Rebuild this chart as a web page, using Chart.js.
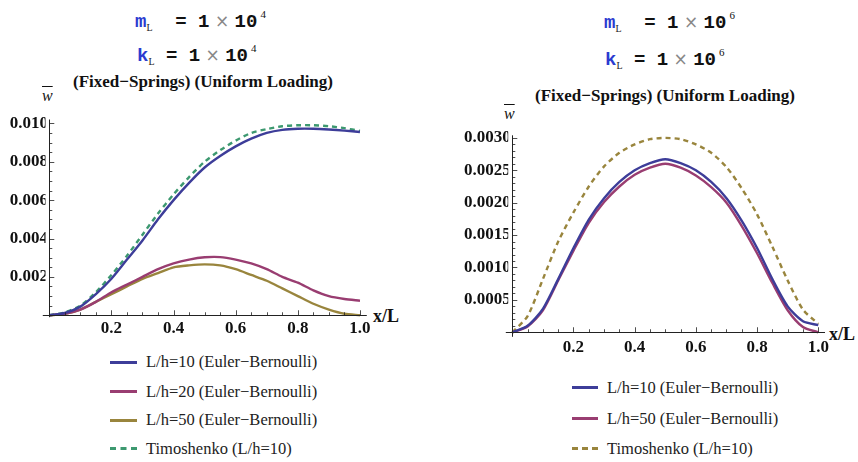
<!DOCTYPE html>
<html><head><meta charset="utf-8">
<script src="https://cdn.jsdelivr.net/npm/chart.js@4.4.1/dist/chart.umd.min.js"></script>
<style>
html,body{margin:0;padding:0;background:#fff;}
body{width:858px;height:462px;position:relative;overflow:hidden;}
.abs{position:absolute;white-space:pre;}
.hdr{font-family:"Liberation Mono","Courier New",monospace;font-weight:bold;font-size:19px;color:#111;line-height:1;}
.hdr .v{color:#2b3bd0;}
.hdr .s{font-family:"Liberation Serif",serif;font-weight:normal;font-size:10px;vertical-align:-4px;color:#222;}
.hdr .x{font-family:"DejaVu Sans",sans-serif;font-weight:normal;color:#888;font-size:17px;}
.hdr .p{font-family:"Liberation Serif",serif;font-weight:normal;font-size:11px;vertical-align:9px;margin-left:3px;}
.ttl{font-family:"Liberation Serif",serif;font-weight:bold;font-size:17px;color:#111;transform:translateX(-50%);}
.lab{font-family:"Liberation Serif",serif;font-weight:bold;font-size:18px;color:#111;}
.wbar{font-family:"Liberation Serif",serif;font-style:italic;font-size:16px;text-decoration:overline;color:#111;}
.leg{font-family:"Liberation Serif",serif;font-size:16.5px;color:#222;}
.sw{position:absolute;height:0;}
.cv{position:absolute;}
</style></head>
<body>
<div class="abs hdr" style="left:135px;top:9px"><span class="v">m</span><span class="s">L</span>  = 1<span class="x"> × </span>10<span class="p">4</span></div>
<div class="abs hdr" style="left:137px;top:43px"><span class="v">k</span><span class="s">L</span> = 1<span class="x"> × </span>10<span class="p">4</span></div>
<div class="abs hdr" style="left:604px;top:10px"><span class="v">m</span><span class="s">L</span>  = 1<span class="x"> × </span>10<span class="p">6</span></div>
<div class="abs hdr" style="left:605px;top:47px"><span class="v">k</span><span class="s">L</span> = 1<span class="x"> × </span>10<span class="p">6</span></div>
<div class="abs ttl" style="left:203px;top:72px">(Fixed−Springs) (Uniform Loading)</div>
<div class="abs ttl" style="left:665px;top:86px">(Fixed−Springs) (Uniform Loading)</div>
<div class="abs wbar" style="left:42px;top:87px">w</div>
<div class="abs wbar" style="left:504px;top:105px">w</div>
<div class="abs lab" style="left:373px;top:306px">x/L</div>
<div class="abs lab" style="left:829px;top:324px">x/L</div>
<div class="cv" style="left:0;top:100px;width:400px;height:250px"><canvas id="c1"></canvas></div>
<div class="cv" style="left:430px;top:115px;width:428px;height:255px"><canvas id="c2"></canvas></div>
<div id="leg1"></div><div id="leg2"></div>
<script>
// ---- data ----
const xs = [0,0.05,0.1,0.15,0.2,0.25,0.3,0.35,0.4,0.45,0.5,0.55,0.6,0.65,0.7,0.75,0.8,0.85,0.9,0.95,1.0];

// left chart (mL = kL = 1e4)
const leftNames = ["L/h=10 (Euler−Bernoulli)","L/h=20 (Euler−Bernoulli)","L/h=50 (Euler−Bernoulli)","Timoshenko (L/h=10)"];
const leftEB10 = [0,0.00012,0.00045,0.0011,0.0019,0.0029,0.0039,0.0050,0.0060,0.0069,0.0077,0.0083,0.0088,0.0092,0.0095,0.00966,0.00972,0.00972,0.00968,0.00962,0.00955];
const leftEB20 = [0,0.00008,0.0003,0.0007,0.0012,0.0016,0.0020,0.0024,0.0027,0.0029,0.00302,0.00303,0.0029,0.0027,0.0024,0.0020,0.0017,0.0013,0.0010,0.00085,0.00076];
const leftEB50 = [0,0.00007,0.0003,0.0007,0.0011,0.0015,0.0019,0.0022,0.0025,0.0026,0.00265,0.0026,0.0024,0.0021,0.0018,0.0014,0.0010,0.0006,0.0003,0.00008,0];
const leftTimo = [0,0.00015,0.0005,0.0012,0.0021,0.0031,0.0042,0.0053,0.0063,0.0072,0.0080,0.0086,0.0091,0.0095,0.0097,0.00985,0.0099,0.0099,0.00985,0.00975,0.0096];

// right chart (mL = kL = 1e6)
const rightNames = ["L/h=10 (Euler−Bernoulli)","L/h=50 (Euler−Bernoulli)","Timoshenko (L/h=10)"];
const rightEB10 = [0,0.0001,0.00036,0.00082,0.0013,0.00174,0.00207,0.00232,0.0025,0.00261,0.00267,0.00261,0.0025,0.00232,0.00207,0.00172,0.0013,0.00082,0.0004,0.00017,0.00011];
const rightEB50 = [0,0.00009,0.00034,0.0008,0.00126,0.00169,0.00201,0.00225,0.00243,0.00254,0.0026,0.00254,0.00242,0.00224,0.002,0.00164,0.00122,0.00076,0.00034,0.00008,0];
const rightTimo = [0,0.00025,0.00082,0.0014,0.00185,0.00225,0.00256,0.00277,0.0029,0.00298,0.003,0.00298,0.0029,0.00277,0.00255,0.00222,0.00182,0.00132,0.0008,0.00035,0.00013];

const leftXTicks = [0.2,0.4,0.6,0.8,1.0];
const leftYTicks = [0.002,0.004,0.006,0.008,0.010];
const rightXTicks = [0.2,0.4,0.6,0.8,1.0];
const rightYTicks = [0.0005,0.0010,0.0015,0.0020,0.0025,0.0030];

const BLUE="#3d3d99", MAG="#993d71", OLIVE="#99853d", GREEN="#3d9970";
const SERIF='"Liberation Serif", serif';

function pts(arr){return xs.map((x,i)=>({x:x,y:arr[i]}));}
function ds(label,arr,color,dash){
  return {label,data:pts(arr),borderColor:color,borderWidth:2.4,pointRadius:0,fill:false,
    tension:0.25,borderDash:dash?[5,4]:[],borderCapStyle:'butt'};
}

const axesPlugin = {
  id:'mmaAxes',
  afterDatasetsDraw(chart,args,o){
    const ctx=chart.ctx, xs_=chart.scales.x, ys_=chart.scales.y;
    const x0=xs_.getPixelForValue(0), y0=ys_.getPixelForValue(0);
    ctx.save();
    ctx.strokeStyle='#222'; ctx.lineWidth=1;
    ctx.beginPath();
    ctx.moveTo(x0-6.5,Math.round(y0)+0.5); ctx.lineTo(xs_.right,Math.round(y0)+0.5);
    ctx.moveTo(Math.round(x0)+0.5,ys_.top); ctx.lineTo(Math.round(x0)+0.5,ys_.bottom);
    ctx.stroke();
    ctx.lineWidth=0.8;
    ctx.beginPath();
    for(let v=o.xMinor; v<=o.xMax+1e-9; v+=o.xMinor){
      const p=Math.round(xs_.getPixelForValue(v))+0.5;
      const major=o.xMajor.some(m=>Math.abs(m-v)<1e-9);
      ctx.moveTo(p,y0); ctx.lineTo(p,y0-(major?5:3));
    }
    for(let i=1; i*o.yMinor<=o.yMax+1e-12; i++){
      const v=i*o.yMinor;
      const p=Math.round(ys_.getPixelForValue(v))+0.5;
      const major=o.yMajor.some(m=>Math.abs(m-v)<1e-12);
      ctx.moveTo(x0,p); ctx.lineTo(x0+(major?5:3),p);
    }
    ctx.stroke();
    ctx.restore();
  }
};

function makeChart(id,datasets,cfg){
  return new Chart(document.getElementById(id),{
    type:'line',
    data:{datasets},
    plugins:[axesPlugin],
    options:{
      responsive:true,maintainAspectRatio:false,animation:false,
      layout:{padding:cfg.pad},
      plugins:{legend:{display:false},tooltip:{enabled:false},mmaAxes:cfg.ax},
      scales:{
        x:{type:'linear',min:cfg.xmin,max:cfg.xmax,
          grid:{display:false,drawTicks:false},border:{display:false},
          afterBuildTicks:s=>{s.ticks=cfg.xt.map(v=>({value:v}));},
          afterFit:s=>{s.height=30;},
          ticks:{padding:cfg.xpad,color:'#111',maxRotation:0,autoSkip:false,
            font:{family:SERIF,weight:'bold',size:17},
            callback:v=>v.toFixed(1)}},
        y:{type:'linear',min:cfg.ymin,max:cfg.ymax,
          grid:{display:false,drawTicks:false},border:{display:false},
          afterBuildTicks:s=>{s.ticks=cfg.yt.map(v=>({value:v}));},
          afterFit:s=>{s.width=cfg.yw;},
          ticks:{padding:cfg.ypad,color:'#111',autoSkip:false,
            font:{family:SERIF,weight:'bold',size:17},
            callback:v=>v.toFixed(cfg.yd)}}
      }
    }
  });
}

makeChart('c1',[
  ds(leftNames[0],leftEB10,BLUE,false),
  ds(leftNames[1],leftEB20,MAG,false),
  ds(leftNames[2],leftEB50,OLIVE,false),
  ds(leftNames[3],leftTimo,GREEN,true)
],{pad:{left:0,right:33.2,top:19.5,bottom:2.8},xmin:-0.0122,xmax:1.022,ymin:-0.0001,ymax:0.0102,
  xt:leftXTicks,yt:leftYTicks,yw:45.5,ypad:-2.5,xpad:1,yd:3,
  ax:{xMinor:0.05,xMax:1.0,xMajor:leftXTicks,yMinor:0.0005,yMax:0.0101,yMajor:leftYTicks}});

makeChart('c2',[
  ds(rightNames[0],rightEB10,BLUE,false),
  ds(rightNames[1],rightEB50,MAG,false),
  ds(rightNames[2],rightTimo,OLIVE,true)
],{pad:{left:0,right:33,top:20.3,bottom:3.2},xmin:-0.0134,xmax:1.022,ymin:-0.00007,ymax:0.00304,
  xt:rightXTicks,yt:rightYTicks,yw:78.2,ypad:-2.5,xpad:1,yd:4,
  ax:{xMinor:0.05,xMax:1.0,xMajor:rightXTicks,yMinor:0.0001,yMax:0.00301,yMajor:rightYTicks}});

// HTML legends
function legend(el,names,colors,dashes,swX,txX,ys){
  const c=document.getElementById(el);
  names.forEach((n,i)=>{
    const sw=document.createElement('div');
    sw.className='sw';
    sw.style.left=swX[0]+'px'; sw.style.width=(swX[1]-swX[0])+'px';
    sw.style.top=(ys[i]-1.5)+'px';
    sw.style.borderTop='3px '+(dashes[i]?'dashed ':'solid ')+colors[i];
    c.appendChild(sw);
    const t=document.createElement('div');
    t.className='abs leg'; t.textContent=n;
    t.style.left=txX+'px'; t.style.top=(ys[i]-10)+'px';
    c.appendChild(t);
  });
}
legend('leg1',leftNames,[BLUE,MAG,OLIVE,GREEN],[0,0,0,1],[110,137],146,[362,391.5,420,448.5]);
legend('leg2',rightNames,[BLUE,MAG,OLIVE],[0,0,1],[572,598],607,[387.5,418.5,448.5]);
</script>
</body></html>
